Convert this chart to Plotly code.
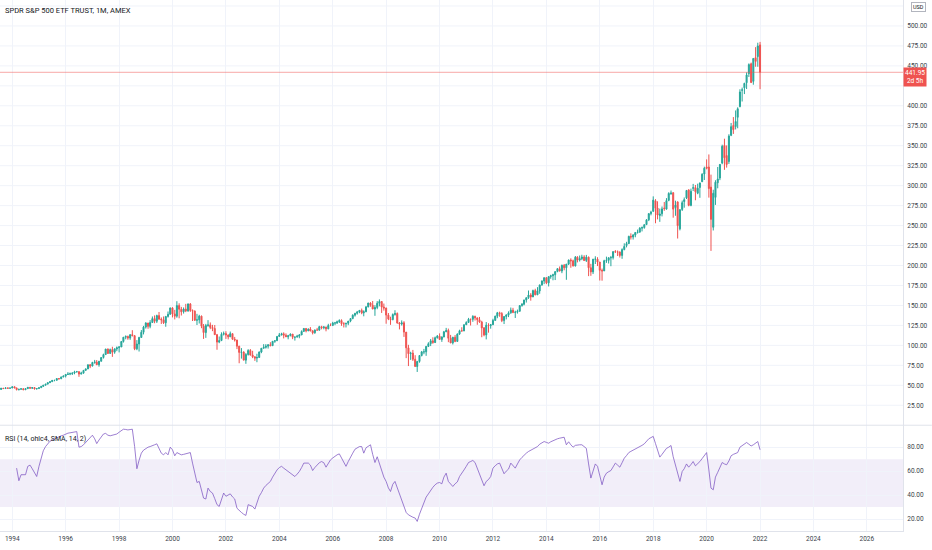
import plotly.graph_objects as go
import pandas as pd

# ---------------- data ----------------
title_text = "SPDR S&P 500 ETF TRUST, 1M, AMEX"
rsi_label = "RSI (14, ohlc4, SMA, 14, 2)"
countdown = "2d 5h"
currency = "USD"
first_month = "1993-01-01"
rsi_first_month = "1994-01-01"

opens = [
    43.5, 43.9, 44.3, 45.2, 44.0, 45.0, 45.1, 44.8, 46.4, 45.9, 46.8, 46.2,
    46.6, 48.2, 46.7, 44.6, 45.1, 45.7, 44.4, 45.8, 47.5, 46.3, 47.2, 45.4,
    45.9, 47.0, 48.7, 50.1, 51.5, 53.3, 54.5, 56.2, 56.2, 58.4, 58.2, 60.5,
    61.6, 63.6, 64.0, 64.6, 65.4, 66.9, 67.1, 64.0, 65.2, 68.7, 70.5, 75.7,
    74.1, 78.6, 79.1, 75.7, 80.1, 84.8, 88.5, 95.4, 89.9, 94.7, 91.5, 95.5,
    97.0, 98.0, 104.9, 110.2, 111.2, 109.1, 113.4, 112.1, 95.7, 101.7, 109.9, 116.4,
    122.9, 128.0, 123.8, 128.6, 133.5, 130.2, 137.3, 132.9, 132.0, 128.3, 136.3, 138.9,
    146.9, 139.4, 136.6, 149.9, 145.2, 142.1, 145.5, 143.1, 151.8, 143.7, 142.9, 131.5,
    132.0, 136.6, 124.0, 116.0, 124.9, 125.6, 122.4, 121.1, 113.4, 104.1, 106.0, 113.9,
    114.8, 113.0, 110.7, 114.7, 107.7, 106.7, 99.0, 91.2, 91.6, 81.5, 88.6, 93.6,
    88.0, 85.6, 84.1, 84.8, 91.7, 96.4, 97.5, 99.0, 100.8, 99.6, 105.1, 105.8,
    111.2, 113.1, 114.5, 112.6, 110.7, 112.1, 114.1, 110.2, 110.4, 111.5, 113.0, 117.4,
    121.2, 118.1, 120.4, 118.1, 115.7, 119.2, 119.1, 123.4, 122.0, 122.9, 120.7, 124.9,
    124.8, 128.0, 128.1, 129.5, 131.1, 127.0, 127.0, 127.7, 130.4, 133.6, 137.8, 140.1,
    141.8, 143.8, 140.7, 142.1, 148.2, 153.1, 150.3, 145.5, 147.4, 152.7, 154.9, 148.1,
    146.8, 137.9, 133.1, 132.3, 138.6, 140.0, 128.0, 126.7, 128.3, 116.6, 96.9, 89.6,
    90.3, 82.6, 73.5, 79.8, 87.3, 91.9, 91.9, 98.7, 102.1, 105.7, 103.6, 109.6,
    111.5, 107.4, 110.4, 116.9, 118.7, 108.9, 103.1, 110.2, 104.9, 114.1, 118.3, 118.1,
    125.8, 128.6, 132.7, 132.6, 136.4, 134.5, 132.1, 129.2, 121.9, 113.1, 125.3, 124.7,
    125.8, 131.2, 136.6, 140.8, 139.8, 131.0, 136.2, 137.9, 140.7, 144.1, 141.2, 141.6,
    142.6, 149.8, 151.5, 156.9, 159.7, 163.1, 160.6, 168.6, 163.3, 168.2, 175.7, 180.6,
    184.8, 178.3, 186.0, 187.2, 188.4, 192.4, 196.0, 193.1, 200.3, 197.2, 201.8, 206.8,
    205.9, 199.5, 210.4, 206.8, 208.6, 210.7, 206.3, 210.4, 197.2, 192.0, 207.9, 208.0,
    204.4, 194.0, 193.2, 206.0, 206.5, 209.7, 209.9, 217.4, 217.1, 216.8, 212.6, 219.9,
    225.0, 227.5, 236.5, 235.7, 238.1, 241.4, 241.8, 246.8, 247.5, 251.2, 257.2, 265.0,
    267.8, 281.1, 272.0, 262.6, 264.8, 272.0, 270.6, 281.6, 289.8, 291.2, 272.5, 279.6,
    245.9, 270.2, 280.0, 284.7, 294.7, 275.3, 296.7, 297.6, 290.6, 297.7, 304.9, 314.6,
    323.5, 323.4, 298.2, 247.9, 285.3, 303.6, 309.6, 328.3, 350.4, 337.7, 330.2, 363.0,
    375.3, 374.0, 385.6, 399.0, 419.4, 422.6, 428.9, 440.3, 452.6, 430.6, 460.3, 461.6,
    476.3,
]

highs = [
    44.2, 45.1, 45.6, 45.4, 45.5, 45.3, 45.2, 46.4, 46.6, 46.9, 46.9, 47.1,
    48.2, 48.2, 47.0, 45.4, 46.0, 46.3, 46.0, 47.7, 47.6, 47.4, 47.5, 46.3,
    47.3, 49.0, 50.4, 51.5, 53.4, 55.0, 56.4, 56.6, 58.7, 59.0, 60.8, 62.2,
    63.6, 66.5, 66.0, 66.0, 68.2, 68.0, 67.5, 67.0, 69.0, 71.0, 76.0, 76.5,
    79.4, 81.8, 81.6, 80.5, 85.1, 89.6, 95.6, 96.1, 96.0, 98.3, 96.4, 98.6,
    99.2, 105.0, 110.5, 112.4, 112.2, 113.8, 119.0, 113.0, 106.6, 110.7, 119.2, 124.4,
    129.0, 128.2, 131.6, 136.2, 137.5, 138.4, 141.8, 135.0, 136.2, 136.3, 142.4, 147.3,
    147.8, 144.5, 155.3, 152.7, 148.2, 147.5, 152.0, 152.6, 153.0, 145.0, 143.8, 139.5,
    138.3, 137.3, 126.7, 126.9, 131.6, 128.7, 125.7, 125.5, 114.3, 111.1, 116.3, 117.3,
    117.7, 113.6, 117.3, 114.7, 110.6, 107.0, 99.4, 96.6, 92.6, 90.3, 95.2, 95.4,
    93.2, 86.4, 89.5, 92.4, 96.5, 101.5, 101.5, 101.1, 104.0, 105.3, 106.4, 111.2,
    115.5, 115.8, 116.3, 115.0, 113.2, 115.0, 114.1, 111.0, 113.2, 114.2, 118.8, 121.7,
    121.7, 121.2, 122.9, 119.2, 119.9, 121.9, 124.5, 124.5, 124.3, 123.4, 127.0, 127.5,
    129.5, 129.4, 131.0, 132.6, 132.6, 129.0, 128.0, 130.5, 134.0, 138.9, 140.7, 143.1,
    144.1, 146.1, 143.9, 149.2, 153.2, 154.0, 155.6, 150.3, 155.4, 157.6, 155.3, 152.4,
    147.2, 140.5, 135.9, 140.0, 144.0, 141.2, 129.2, 131.3, 130.3, 116.7, 100.7, 92.0,
    94.3, 87.7, 80.6, 87.6, 93.0, 95.6, 99.3, 103.9, 108.0, 110.1, 111.0, 113.0,
    115.0, 111.3, 118.1, 121.9, 121.0, 113.1, 110.6, 112.9, 115.0, 119.6, 122.7, 126.2,
    130.2, 134.4, 133.2, 137.7, 137.1, 134.5, 135.6, 130.8, 123.0, 129.2, 127.7, 126.8,
    133.3, 137.1, 141.9, 142.2, 141.6, 136.3, 139.1, 142.6, 147.4, 147.0, 143.4, 144.8,
    150.3, 153.0, 157.0, 160.0, 168.7, 165.4, 169.8, 170.9, 172.9, 176.0, 181.4, 184.9,
    185.1, 186.7, 188.4, 189.7, 192.4, 196.8, 198.8, 201.1, 201.9, 201.8, 207.5, 209.0,
    207.4, 211.9, 211.7, 212.5, 213.5, 212.9, 213.3, 211.3, 202.1, 208.3, 211.6, 210.4,
    204.4, 196.2, 207.2, 211.1, 210.3, 212.0, 217.5, 219.3, 218.8, 217.8, 221.5, 227.8,
    229.7, 237.3, 240.3, 239.5, 241.9, 245.0, 248.0, 248.9, 251.3, 257.9, 265.2, 268.6,
    286.6, 283.1, 280.4, 271.3, 273.9, 279.5, 284.4, 291.7, 293.9, 291.7, 281.2, 280.3,
    270.5, 281.3, 285.2, 294.5, 295.4, 296.3, 302.2, 300.9, 302.5, 304.0, 315.5, 323.8,
    332.9, 339.1, 313.8, 294.9, 306.8, 323.4, 327.2, 351.3, 358.8, 350.4, 364.4, 378.5,
    385.9, 394.2, 398.1, 420.7, 422.8, 428.8, 441.8, 453.1, 454.1, 459.6, 473.5, 479.0,
    480.0,
]

lows = [
    43.3, 42.8, 43.9, 43.3, 43.8, 44.3, 44.4, 44.7, 45.5, 45.8, 45.7, 46.1,
    46.5, 46.4, 43.6, 43.5, 44.5, 44.2, 44.3, 45.6, 46.1, 45.4, 44.8, 44.8,
    45.6, 47.0, 48.1, 49.9, 51.1, 52.8, 54.4, 55.0, 56.2, 57.2, 57.8, 60.0,
    59.8, 63.0, 62.7, 62.9, 63.8, 66.0, 60.6, 63.8, 64.8, 68.0, 70.3, 71.5,
    73.7, 77.0, 75.5, 73.3, 79.8, 83.5, 88.3, 89.2, 89.5, 85.6, 89.5, 92.8,
    91.2, 98.0, 103.5, 107.6, 107.0, 106.9, 111.4, 94.0, 94.0, 92.3, 109.4, 113.7,
    121.0, 120.8, 121.4, 128.0, 127.7, 128.0, 131.8, 126.8, 126.8, 123.3, 134.8, 138.6,
    135.0, 132.5, 134.6, 133.9, 137.4, 139.8, 141.6, 142.1, 141.9, 130.5, 130.5, 125.5,
    127.4, 121.5, 108.1, 109.4, 123.3, 120.3, 117.8, 113.1, 94.5, 102.7, 105.4, 112.4,
    108.1, 107.5, 110.7, 107.3, 104.8, 95.3, 77.6, 83.4, 81.5, 76.9, 87.2, 87.1,
    84.0, 80.6, 78.9, 84.7, 90.2, 96.0, 96.0, 96.0, 99.0, 99.6, 103.2, 105.8,
    110.7, 112.4, 108.7, 110.7, 107.6, 111.4, 107.8, 106.0, 109.8, 108.9, 113.0, 117.4,
    116.3, 118.0, 117.6, 113.7, 114.6, 118.8, 118.3, 120.1, 120.1, 117.6, 120.2, 124.6,
    124.8, 125.3, 126.8, 128.0, 124.5, 122.4, 122.4, 125.3, 129.0, 132.7, 136.0, 138.5,
    140.3, 139.0, 136.4, 141.6, 147.6, 148.4, 145.5, 137.0, 145.3, 148.9, 140.6, 143.5,
    127.1, 131.6, 125.7, 131.4, 137.3, 127.2, 120.0, 124.8, 110.6, 84.0, 74.1, 81.8,
    80.5, 73.5, 66.7, 78.3, 86.2, 88.9, 86.9, 97.9, 99.1, 102.0, 102.9, 108.5,
    107.1, 104.4, 110.4, 116.9, 104.0, 102.8, 101.1, 104.0, 104.9, 113.2, 117.3, 117.8,
    125.7, 128.6, 124.9, 129.5, 131.1, 125.8, 128.2, 110.2, 111.4, 107.5, 115.9, 120.9,
    125.8, 131.2, 134.0, 135.8, 129.1, 126.7, 132.5, 135.4, 139.6, 140.3, 134.3, 139.8,
    142.6, 148.5, 150.1, 153.6, 158.2, 156.0, 160.6, 162.7, 163.3, 164.6, 174.6, 176.7,
    176.7, 173.8, 183.4, 181.5, 181.8, 191.6, 192.6, 190.4, 194.0, 182.1, 200.6, 197.2,
    198.8, 198.8, 203.9, 205.0, 206.7, 205.6, 204.4, 186.7, 187.1, 189.3, 201.9, 199.3,
    181.2, 181.0, 193.2, 203.3, 202.5, 199.1, 207.5, 215.8, 211.9, 210.0, 208.4, 219.1,
    222.7, 226.8, 232.5, 232.5, 235.4, 240.0, 241.2, 242.7, 246.1, 251.0, 255.6, 262.8,
    267.4, 252.9, 257.8, 254.7, 261.5, 268.5, 270.3, 280.5, 288.6, 259.9, 262.3, 233.8,
    244.0, 268.3, 272.4, 283.3, 274.2, 274.2, 293.3, 281.7, 289.3, 284.8, 304.7, 307.1,
    320.4, 285.0, 218.3, 243.9, 275.9, 296.7, 306.9, 326.8, 319.8, 322.6, 327.2, 362.0,
    364.8, 370.4, 371.9, 398.2, 405.4, 414.7, 421.0, 436.1, 428.8, 426.4, 448.9, 448.9,
    420.8,
]

closes = [
    43.9, 44.3, 45.2, 44.0, 45.0, 45.1, 44.8, 46.4, 45.9, 46.8, 46.2, 46.6,
    48.2, 46.7, 44.6, 45.1, 45.7, 44.4, 45.8, 47.5, 46.3, 47.2, 45.4, 45.9,
    47.0, 48.7, 50.1, 51.5, 53.3, 54.5, 56.2, 56.2, 58.4, 58.2, 60.5, 61.6,
    63.6, 64.0, 64.6, 65.4, 66.9, 67.1, 64.0, 65.2, 68.7, 70.5, 75.7, 74.1,
    78.6, 79.1, 75.7, 80.1, 84.8, 88.5, 95.4, 89.9, 94.7, 91.5, 95.5, 97.0,
    98.0, 104.9, 110.2, 111.2, 109.1, 113.4, 112.1, 95.7, 101.7, 109.9, 116.4, 122.9,
    128.0, 123.8, 128.6, 133.5, 130.2, 137.3, 132.9, 132.0, 128.3, 136.3, 138.9, 146.9,
    139.4, 136.6, 149.9, 145.2, 142.1, 145.5, 143.1, 151.8, 143.7, 142.9, 131.5, 132.0,
    136.6, 124.0, 116.0, 124.9, 125.6, 122.4, 121.1, 113.4, 104.1, 106.0, 113.9, 114.8,
    113.0, 110.7, 114.7, 107.7, 106.7, 99.0, 91.2, 91.6, 81.5, 88.6, 93.6, 88.0,
    85.6, 84.1, 84.8, 91.7, 96.4, 97.5, 99.0, 100.8, 99.6, 105.1, 105.8, 111.2,
    113.1, 114.5, 112.6, 110.7, 112.1, 114.1, 110.2, 110.4, 111.5, 113.0, 117.4, 121.2,
    118.1, 120.4, 118.1, 115.7, 119.2, 119.1, 123.4, 122.0, 122.9, 120.7, 124.9, 124.8,
    128.0, 128.1, 129.5, 131.1, 127.0, 127.0, 127.7, 130.4, 133.6, 137.8, 140.1, 141.8,
    143.8, 140.7, 142.1, 148.2, 153.1, 150.3, 145.5, 147.4, 152.7, 154.9, 148.1, 146.8,
    137.9, 133.1, 132.3, 138.6, 140.0, 128.0, 126.7, 128.3, 116.6, 96.9, 89.6, 90.3,
    82.6, 73.5, 79.8, 87.3, 91.9, 91.9, 98.7, 102.1, 105.7, 103.6, 109.6, 111.5,
    107.4, 110.4, 116.9, 118.7, 108.9, 103.1, 110.2, 104.9, 114.1, 118.3, 118.1, 125.8,
    128.6, 132.7, 132.6, 136.4, 134.5, 132.1, 129.2, 121.9, 113.1, 125.3, 124.7, 125.8,
    131.2, 136.6, 140.8, 139.8, 131.0, 136.2, 137.9, 140.7, 144.1, 141.2, 141.6, 142.6,
    149.8, 151.5, 156.9, 159.7, 163.1, 160.6, 168.6, 163.3, 168.2, 175.7, 180.6, 184.8,
    178.3, 186.0, 187.2, 188.4, 192.4, 196.0, 193.1, 200.3, 197.2, 201.8, 206.8, 205.9,
    199.5, 210.4, 206.8, 208.6, 210.7, 206.3, 210.4, 197.2, 192.0, 207.9, 208.0, 204.4,
    194.0, 193.2, 206.0, 206.5, 209.7, 209.9, 217.4, 217.1, 216.8, 212.6, 219.9, 223.9,
    227.5, 236.5, 235.7, 238.1, 241.4, 241.8, 246.8, 247.5, 251.2, 257.2, 265.0, 266.9,
    281.9, 271.7, 263.2, 264.5, 270.9, 271.3, 281.3, 290.3, 290.7, 270.6, 275.7, 249.9,
    269.9, 278.7, 282.5, 294.0, 275.3, 293.0, 297.4, 292.5, 296.8, 303.3, 314.3, 321.9,
    321.7, 296.3, 257.8, 290.5, 304.3, 308.4, 326.5, 349.3, 334.9, 326.5, 362.1, 373.9,
    370.1, 380.4, 396.3, 417.3, 420.0, 428.1, 438.5, 451.6, 429.1, 459.3, 455.6, 475.0,
    441.95,
]

rsi_values = [
    None, None, 62.5, 52, 57, 57, 57, 64, 65, 62, 58, 55.5,
    64, 72, 77, 80.5, 83, 85, 86, 87, 88, 89, 89.5, 90,
    91, 91.7, 92, 92.5, 93, 93, 80, 80.5, 82, 84, 86, 88,
    90, 87, 83, 86, 89, 91, 91.5, 90, 89.5, 90, 90.5, 91,
    92.5, 94, 95, 94.8, 94.4, 94.7, 95, 80.5, 62, 69, 75, 77.5,
    79, 80, 80.5, 81, 82, 82.8, 79, 75, 73.6, 75.5, 73.6, 80,
    77.8, 72.8, 75.5, 74.5, 73.6, 74, 74.4, 75, 75.5, 66.7, 57, 50.5,
    51.4, 44, 37.5, 36.7, 45.8, 43, 41.7, 37, 32, 30.5, 36, 41.7,
    39, 40, 41, 38.5, 36.7, 29, 27, 25.5, 24, 23, 32, 31,
    30.5, 28.3, 33, 39, 42, 45.8, 48, 50, 51.4, 55, 58.3, 61,
    63, 64, 62.5, 61, 59.5, 57.8, 56.5, 55.5, 57.5, 59.7, 63, 66.7,
    66.7, 66.7, 65, 60.5, 63, 65.3, 67, 68, 67, 63.3, 66, 69.4,
    71, 72.5, 73.6, 74.4, 71, 67, 64, 68, 72, 75, 78.3, 79.5,
    80.5, 80.5, 75, 79.5, 81, 82, 74, 67.2, 72, 66, 59, 55,
    51.4, 46, 43, 49, 51.4, 46, 40.3, 36.7, 31, 25.5, 23.5, 22.2,
    21.5, 20.8, 18, 24, 29, 34.7, 38.3, 41, 44.4, 46.5, 48.6, 50,
    50.5, 49.4, 55, 58.3, 51.4, 49, 47.2, 49.4, 51, 55.5, 58, 61,
    64, 67.2, 68, 68.9, 67.2, 62, 58.3, 52, 47.8, 51.4, 53, 55.5,
    62.5, 64.5, 66, 66.7, 62, 57.8, 60, 61.7, 66.7, 64.5, 62.5, 66,
    69.4, 71.5, 73.6, 75, 76.4, 77.5, 78.3, 79.5, 80.5, 82.5, 84, 84.7,
    84, 83.3, 84.5, 85.5, 86.5, 87, 87.5, 88, 88.3, 82, 84.5, 82,
    80, 81.5, 82, 82, 82, 80.5, 79, 66, 54.2, 60, 66, 64,
    56, 48.6, 55, 58.3, 59.5, 60.5, 63.5, 66.7, 65, 63.3, 67, 70.8,
    73, 75.5, 76.5, 77.5, 78, 79, 80, 81.5, 82.8, 85, 87, 88,
    89, 83, 77, 71.7, 74, 76.4, 79, 80, 81.4, 72, 64.4, 57,
    51.4, 59.7, 62, 66, 63.3, 65.5, 68, 64.4, 66, 68, 70.5, 72.5,
    75.5, 61, 45.8, 44.4, 55, 59, 63, 67.2, 66, 65.3, 68.5, 72.8,
    74, 74.8, 75.5, 80, 81.3, 82.6, 83.9, 82.5, 81, 82, 83.5, 84.7,
    77.8,
]

band_low = 30
band_high = 70
year_labels = ["1994", "1996", "1998", "2000", "2002", "2004", "2006", "2008", "2010",
               "2012", "2014", "2016", "2018", "2020", "2022", "2024", "2026"]
price_ticks = [25, 50, 75, 100, 125, 150, 175, 200, 225, 250, 275, 300, 325, 350,
               375, 400, 450, 475, 500]
rsi_ticks = [20, 40, 60, 80]
grid_prices = [25, 50, 75, 100, 125, 150, 175, 200, 225, 250, 275, 300, 325, 350,
               375, 400, 425, 450, 475, 500, 525]

# ---------------- figure ----------------
months = pd.date_range(first_month, periods=len(closes), freq="MS")
rsi_months = pd.date_range(rsi_first_month, periods=len(rsi_values), freq="MS")
year_dates = [f"{y}-01-01" for y in year_labels]

UP = "#26a69a"
DOWN = "#ef5350"
FONT = "Roboto"
TXT = "#131722"
AXTXT = "#3b3f4a"
GRID = "#f0f3fa"
BORDER = "#e0e3eb"
split = 0.1992

fig = go.Figure()
fig.add_trace(go.Candlestick(
    x=months, open=opens, high=highs, low=lows, close=closes,
    increasing=dict(line=dict(color=UP, width=1), fillcolor=UP),
    decreasing=dict(line=dict(color=DOWN, width=1), fillcolor=DOWN),
    whiskerwidth=0, xaxis="x", yaxis="y", showlegend=False, hoverinfo="skip",
))
fig.add_trace(go.Scatter(
    x=rsi_months, y=rsi_values, mode="lines",
    line=dict(color="rgba(126,87,194,0.85)", width=0.9), xaxis="x", yaxis="y2",
    showlegend=False, hoverinfo="skip",
))

last = closes[-1]

axis_common = dict(
    showgrid=True, gridcolor=GRID, gridwidth=1,
    showline=True, linecolor=BORDER, ticks="", ticklen=0, zeroline=False,
    tickfont=dict(size=6.5, color=AXTXT, family=FONT),
)

# price gridlines drawn as shapes so hidden labels (425, 525) keep their lines
grid_shapes = [
    dict(type="line", xref="paper", yref="y", x0=0, x1=1, y0=p, y1=p,
         line=dict(color=GRID, width=1), layer="below")
    for p in grid_prices
]

fig.update_layout(
    width=932, height=550,
    margin=dict(l=0, r=29, t=0, b=19),
    paper_bgcolor="white", plot_bgcolor="white",
    font=dict(family=FONT, size=7, color=TXT),
    hovermode=False,
    xaxis=dict(
        type="date", domain=[0, 1], anchor="y2",
        range=["1993-07-17", "2027-05-10"],
        tickvals=year_dates, ticktext=year_labels,
        rangeslider=dict(visible=False), ticklabelstandoff=1,
        **axis_common,
    ),
    yaxis=dict(
        domain=[split, 1], anchor="x", side="right",
        range=[0, 532.5], tickvals=price_ticks, tickformat=".2f",
        ticklabelstandoff=2, **{**axis_common, "showgrid": False},
    ),
    yaxis2=dict(
        domain=[0, split], anchor="x", side="right",
        range=[10, 98.33], tickvals=rsi_ticks, tickformat=".2f",
        ticklabelstandoff=2, **axis_common,
    ),
    shapes=grid_shapes + [
        dict(type="rect", xref="paper", yref="y2", x0=0, x1=1,
             y0=band_low, y1=band_high, fillcolor="rgba(126,87,194,0.1)",
             line=dict(width=0), layer="below"),
        dict(type="line", xref="paper", yref="paper", x0=0, x1=1.032,
             y0=split, y1=split, line=dict(color=BORDER, width=1)),
        dict(type="line", xref="paper", yref="y", x0=0, x1=1,
             y0=last, y1=last, line=dict(color="rgba(239,83,80,0.5)", width=1)),
    ],
    annotations=[
        dict(xref="paper", yref="paper", x=0, y=1, xanchor="left", yanchor="top",
             xshift=3, yshift=-4, text=title_text, showarrow=False,
             font=dict(size=7.5, color=TXT, family=FONT)),
        dict(xref="paper", yref="paper", x=0, y=split, xanchor="left", yanchor="top",
             xshift=3, yshift=-8, text=rsi_label, showarrow=False,
             font=dict(size=7, color=TXT, family=FONT)),
        dict(xref="paper", yref="y", x=1, y=last, xanchor="left", yanchor="top",
             xshift=0, yshift=5, text=f"{last:.2f}<br>{countdown}", showarrow=False,
             bgcolor=DOWN, borderpad=1, align="center",
             font=dict(size=6.5, color="white", family=FONT)),
        dict(xref="paper", yref="paper", x=1, y=1, xanchor="left", yanchor="top",
             xshift=8, yshift=-2, text=currency, showarrow=False,
             bgcolor="white", bordercolor="#b2b5be", borderwidth=1, borderpad=1,
             font=dict(size=5.5, color=TXT, family=FONT)),
    ],
)

fig.write_html(
    "out.html",
    config={"displayModeBar": False, "staticPlot": True},
    post_script="document.body.style.margin='0';document.body.style.padding='0';"
                "document.body.style.overflow='hidden';",
)
